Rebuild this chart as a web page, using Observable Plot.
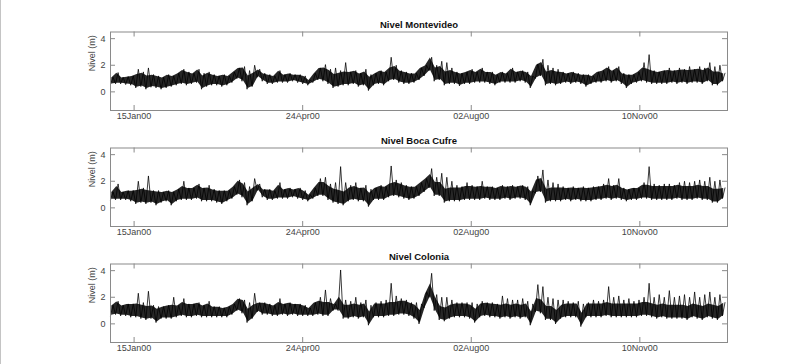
<!DOCTYPE html>
<html><head><meta charset="utf-8">
<script src="https://cdn.jsdelivr.net/npm/d3@7"></script>
<script src="https://cdn.jsdelivr.net/npm/@observablehq/plot@0.6"></script>
<style>
html,body{margin:0;padding:0;background:#fff;}
#wrap{position:relative;width:806px;height:364px;overflow:hidden;}
#wrap svg{position:absolute;left:0;}
#edge{position:absolute;left:0;top:0;width:1px;height:364px;background:#c4c4c4;}
</style></head><body><div id="wrap"><div id="edge"></div></div>
<script>
// Panel titles
const titles = ["Nivel Montevideo", "Nivel Boca Cufre", "Nivel Colonia"];
const yLabel = "Nivel (m)";
// x ticks (dates) and their labels
const tickDates = ["2000-01-15", "2000-04-24", "2000-08-02", "2000-11-10"];
const tickLabels = ["15Jan00", "24Apr00", "02Aug00", "10Nov00"];
const yTicks = [0, 2, 4];
const startDate = "2000-01-01";
const endDate = "2001-01-01";
const binDays = 3; // each value pair = low / high of the signal in a 3-day window

// Montevideo: low and high of the band per 3-day window (m)
const montevideoLo = [
.55,.6,.6,.55,.5,.3,.4,.2,.35,.3,
.2,.3,.4,.5,.6,.5,.6,.7,.2,.4,
.5,.5,.4,.5,.7,1.0,.8,.2,.4,1.1,
.8,.6,.6,.7,.7,.7,.8,.7,.6,.5,
.7,.9,.8,.6,.3,.4,.5,.5,.6,.4,
.5,.1,.5,.6,.5,.8,.9,.7,.6,.6,
.7,.9,1.2,1.6,.8,.9,.5,.6,.6,.45,
.6,.6,.7,.7,.7,.6,.5,.7,.7,.7,
.7,.8,.7,.3,1.0,1.2,.5,.6,.5,.6,
.7,.6,.7,.6,.4,.6,.7,.7,.8,.7,
.8,.6,.3,.6,.7,.8,.7,.6,.6,.6,
.6,.7,.6,.7,.6,.7,.7,.6,.8,.5,.5,.8];
const montevideoHi = [
1.1,1.45,1.1,1.15,1.2,1.7,1.5,1.8,1.3,1.2,
1.1,1.3,1.2,1.4,1.7,1.5,1.4,1.7,1.4,1.5,
1.3,1.2,1.3,1.2,1.5,1.8,1.9,1.6,2.0,1.7,
1.4,1.3,1.2,1.6,1.3,1.4,1.3,1.3,1.2,.9,
1.4,1.8,2.05,1.7,1.8,1.6,2.2,1.5,1.6,1.4,
1.7,1.3,1.4,1.6,1.5,2.6,2.0,1.6,1.5,1.4,
1.4,1.8,2.0,2.6,2.0,2.3,2.2,1.8,1.5,1.4,
1.5,1.7,1.5,1.8,1.5,1.5,1.3,1.5,1.4,1.8,
1.5,1.6,1.5,1.2,2.1,2.45,2.0,1.8,1.7,1.5,
1.4,1.5,1.4,1.3,1.3,1.2,1.5,1.6,1.9,1.6,
1.9,1.4,1.3,1.3,1.5,2.2,2.8,1.6,1.5,1.6,
1.8,1.6,1.8,1.7,1.9,1.7,1.9,1.8,2.2,1.9,2.0,1.4];

// Boca Cufre
const bocaLo = [
.6,.6,.6,.6,.5,.3,.4,.3,.4,.2,
.4,.5,.2,.5,.6,.6,.6,.7,.5,.5,
.5,.4,.3,.5,.7,1.0,.8,.2,.5,1.3,
.8,.6,.6,.7,.7,.7,.8,.7,.6,.5,
.7,.9,.9,.6,.4,.3,.2,.5,.6,.5,
.5,.1,.6,.6,.6,.8,.9,.8,.7,.6,
.7,.9,1.2,1.5,.9,.9,.4,.5,.5,.5,
.6,.6,.6,.6,.7,.6,.6,.6,.7,.6,
.7,.7,.6,.2,1.1,1.2,.4,.5,.5,.5,
.6,.5,.6,.5,.5,.5,.6,.6,.7,.6,
.7,.6,.5,.6,.6,.7,.7,.6,.6,.6,
.6,.6,.7,.6,.6,.6,.7,.6,.6,.4,.4,.7];
const bocaHi = [
1.2,1.8,1.2,1.3,1.3,2.0,1.5,2.4,1.3,1.3,
1.2,1.3,1.2,1.4,2.0,1.5,1.5,1.8,1.5,1.7,
1.4,1.3,1.3,1.3,1.6,2.1,1.9,1.6,2.2,1.8,
1.4,1.4,1.3,1.9,1.4,1.5,1.4,1.5,1.3,1.0,
1.5,2.2,2.3,1.8,1.9,3.1,1.9,1.7,1.9,1.5,
1.7,1.4,1.5,1.7,1.6,3.15,2.1,1.9,1.7,1.6,
1.6,1.9,2.2,2.95,2.3,2.6,2.3,2.0,1.7,1.6,
1.9,1.7,1.6,2.0,1.6,1.6,1.5,1.7,1.6,1.7,
1.6,1.7,1.6,1.3,2.4,2.85,2.1,1.9,1.8,1.6,
1.5,1.6,1.5,1.6,1.5,1.6,1.6,1.8,2.2,1.7,
2.2,1.5,1.4,1.5,1.5,1.9,3.1,1.8,1.7,1.8,
1.8,1.7,1.9,2.0,1.9,2.0,2.1,2.0,2.3,2.0,2.1,1.5];

// Colonia
const coloniaLo = [
.6,.7,.6,.6,.5,.5,.4,.3,.4,.1,
.4,.4,.4,.5,.6,.5,.5,.6,.5,.5,
.5,.5,.5,.5,.7,1.0,.8,.1,.4,.9,
.7,.7,.6,.6,.7,.6,.7,.6,.6,.6,
.6,.7,.6,.6,1.0,1.0,.4,.4,.5,.4,
.5,-.1,.5,.5,.5,.6,.6,.7,.7,.6,
.4,0,1.2,2.0,1.0,.3,.2,.4,.5,.5,
.5,.4,.1,.5,.6,.5,.5,.4,.5,.4,
.5,.4,.5,-.1,.9,.8,.3,.3,0,.4,
.5,.5,.5,-.2,.5,.5,.5,.5,.6,.5,
.5,.5,.5,.5,.5,.6,.6,.5,.4,.5,
.4,.4,.4,.4,.3,.5,.4,.3,.5,.4,.3,.6];
const coloniaHi = [
1.4,1.7,1.4,1.5,1.5,2.3,1.6,2.45,1.4,1.3,
1.3,1.4,2.0,1.4,1.9,1.5,1.5,1.6,1.4,1.7,
1.3,1.3,1.2,1.3,1.5,1.9,1.8,1.6,2.3,1.6,
1.6,1.5,1.4,1.9,1.5,1.6,1.5,1.5,1.4,1.2,
1.6,2.0,2.55,1.9,1.5,4.05,1.8,1.7,2.0,1.6,
1.8,1.4,1.6,1.7,1.8,3.05,2.1,1.9,1.8,1.6,
1.6,1.5,2.4,3.8,2.2,2.0,2.0,1.8,1.6,1.6,
1.6,1.6,1.5,1.7,1.6,1.6,1.5,2.1,1.9,1.8,
1.8,1.9,1.7,1.5,2.95,2.8,2.0,1.9,1.8,1.8,
1.7,1.6,1.7,1.5,1.6,1.8,1.7,1.8,2.8,2.0,
2.1,1.8,1.9,1.7,1.8,2.0,3.05,2.0,2.2,2.0,
2.5,2.0,2.1,2.2,2.0,2.4,2.0,2.2,2.4,2.0,2.2,1.6];

const panels = [
  {title: titles[0], lo: montevideoLo, hi: montevideoHi},
  {title: titles[1], lo: bocaLo, hi: bocaHi},
  {title: titles[2], lo: coloniaLo, hi: coloniaHi}
];

const t0 = new Date(startDate + "T00:00:00Z");
const t1 = new Date(endDate + "T00:00:00Z");
const tickDateObjs = tickDates.map(s => new Date(s + "T00:00:00Z"));
const labelOf = new Map(tickDateObjs.map((d, i) => [+d, tickLabels[i]]));
const dayMs = 864e5;

// zig-zag trace alternating between each window's low and high
function zigzag(lo, hi) {
  const out = [];
  lo.forEach((v, k) => {
    out.push({date: new Date(+t0 + k * binDays * dayMs), value: v});
    out.push({date: new Date(+t0 + (k + 0.5) * binDays * dayMs), value: hi[k]});
  });
  return out;
}
// dense core of the trace: one row per window
function band(lo, hi) {
  return lo.map((v, k) => ({date: new Date(+t0 + (k + 0.25) * binDays * dayMs), lo: v, hi: hi[k]}));
}

const W = 806, H = 124;
const mL = 110, mR = 79, mT = 31.5, mB = 14;
const frameW = W - mL - mR, frameH = H - mT - mB;
const tick = 5;
const tops = [0, 115.5, 231.5];
const axisColor = "#8a8a8a";
const textColor = "#444";

const wrap = document.getElementById("wrap");
panels.forEach((p, i) => {
  const svg = Plot.plot({
    width: W, height: H,
    marginLeft: mL, marginRight: mR, marginTop: mT, marginBottom: mB,
    style: {fontFamily: "'Liberation Sans', Arial, Helvetica, sans-serif", fontSize: "9px", background: "transparent", overflow: "visible"},
    x: {type: "utc", domain: [t0, t1]},
    y: {domain: [-1.4, 4.5]},
    marks: [
      Plot.areaY(band(p.lo, p.hi), {x: "date", y1: d => d.lo + 0.05, y2: d => Math.min(d.hi - 0.05, d.lo + 1.0), fill: "#151515", fillOpacity: 0.92}),
      Plot.lineY(zigzag(p.lo, p.hi), {x: "date", y: "value", stroke: "#000", strokeWidth: 0.9, strokeOpacity: 0.85}),
      Plot.frame({stroke: axisColor}),
      // inward ticks
      Plot.ruleX(tickDateObjs, {x: d => d, insetTop: frameH - tick, stroke: axisColor}),
      Plot.ruleX(tickDateObjs, {x: d => d, insetBottom: frameH - tick, stroke: axisColor}),
      Plot.ruleY(yTicks, {y: d => d, insetRight: frameW - tick, stroke: axisColor}),
      Plot.ruleY(yTicks, {y: d => d, insetLeft: frameW - tick, stroke: axisColor}),
      Plot.axisX(tickDateObjs, {anchor: "bottom", tickSize: 0, tickPadding: 2, label: null, tickFormat: d => labelOf.get(+d), fill: textColor}),
      Plot.axisY(yTicks, {anchor: "left", tickSize: 0, tickPadding: 5, label: null, fill: textColor}),
      Plot.text([yLabel], {frameAnchor: "left", rotate: -90, dx: -18, fill: textColor, fontSize: 9}),
      Plot.text([p.title], {frameAnchor: "top", dy: -11, fontWeight: "bold", fontSize: 9.5, fill: "#111"})
    ]
  });
  svg.style.top = tops[i] + "px";
  wrap.appendChild(svg);
});
</script>
</body></html>
